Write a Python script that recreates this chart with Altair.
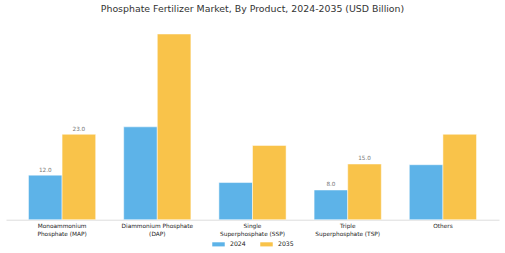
import altair as alt
import pandas as pd

products = [
    "Monoammonium\nPhosphate (MAP)",
    "Diammonium Phosphate\n(DAP)",
    "Single\nSuperphosphate (SSP)",
    "Triple\nSuperphosphate (TSP)",
    "Others",
]
years = ["2024", "2035"]
values_2024 = [12.0, 25.0, 10.0, 8.0, 14.8]
values_2035 = [23.0, 50.0, 20.0, 15.0, 23.0]
labels_2024 = ["12.0", "", "", "8.0", ""]
labels_2035 = ["23.0", "", "", "15.0", ""]

rows = []
for i, p in enumerate(products):
    rows.append({"product": p, "year": "2024", "value": values_2024[i], "label": labels_2024[i]})
    rows.append({"product": p, "year": "2035", "value": values_2035[i], "label": labels_2035[i]})
df = pd.DataFrame(rows)

FONT = "DejaVu Sans"

x = alt.X(
    "product:N",
    sort=products,
    title=None,
    scale=alt.Scale(paddingInner=0.294, paddingOuter=0.236),
    axis=alt.Axis(
        labelAngle=0,
        ticks=False,
        grid=False,
        domainColor="#dddddd",
        domainWidth=1,
        labelFont=FONT,
        labelFontSize=5.8,
        labelColor="#222222",
        labelPadding=3,
        labelLineHeight=7.5,
        labelExpr="split(datum.label, '\\n')",
    ),
)
y = alt.Y(
    "value:Q",
    scale=alt.Scale(domain=[0, 52.5], nice=False, zero=True),
    axis=None,
)

bars = alt.Chart(df).mark_bar(stroke="white", strokeWidth=0.5).encode(
    x=x,
    xOffset=alt.XOffset("year:N", sort=years),
    y=y,
    color=alt.Color(
        "year:N",
        sort=years,
        scale=alt.Scale(domain=years, range=["#5db3e8", "#f9c34a"]),
        legend=alt.Legend(
            title=None,
            orient="none",
            legendX=206,
            legendY=213,
            direction="horizontal",
            symbolType="M-1,-0.33H1V0.33H-1Z",
            symbolSize=156,
            symbolStrokeWidth=0,
            labelFont=FONT,
            labelFontSize=6.2,
            labelColor="#222222",
            labelOffset=5,
            columnPadding=14,
            padding=0,
        ),
    ),
)

text = alt.Chart(df).mark_text(
    baseline="bottom", dy=-2.5, font=FONT, fontSize=5.7, color="#777777"
).encode(
    x=alt.X("product:N", sort=products),
    xOffset=alt.XOffset("year:N", sort=years),
    y=alt.Y("value:Q"),
    text="label:N",
)

chart = (
    alt.layer(bars, text)
    .properties(
        width=493,
        height=195,
        autosize=alt.AutoSizeParams(type="none"),
        padding={"left": 6, "right": 6, "top": 24.7, "bottom": 33.3},
        view=alt.ViewBackground(stroke=None, strokeWidth=0),
        title=alt.Title(
            "Phosphate Fertilizer Market, By Product, 2024-2035 (USD Billion)",
            font=FONT,
            fontSize=9.4,
            fontWeight="normal",
            color="#333333",
            anchor="middle",
            offset=10,
        ),
    )
    .configure_view(strokeWidth=0, stroke=None)
    .configure(background="white")
)

chart.save("out.html", embed_options={"renderer": "svg", "actions": False})
